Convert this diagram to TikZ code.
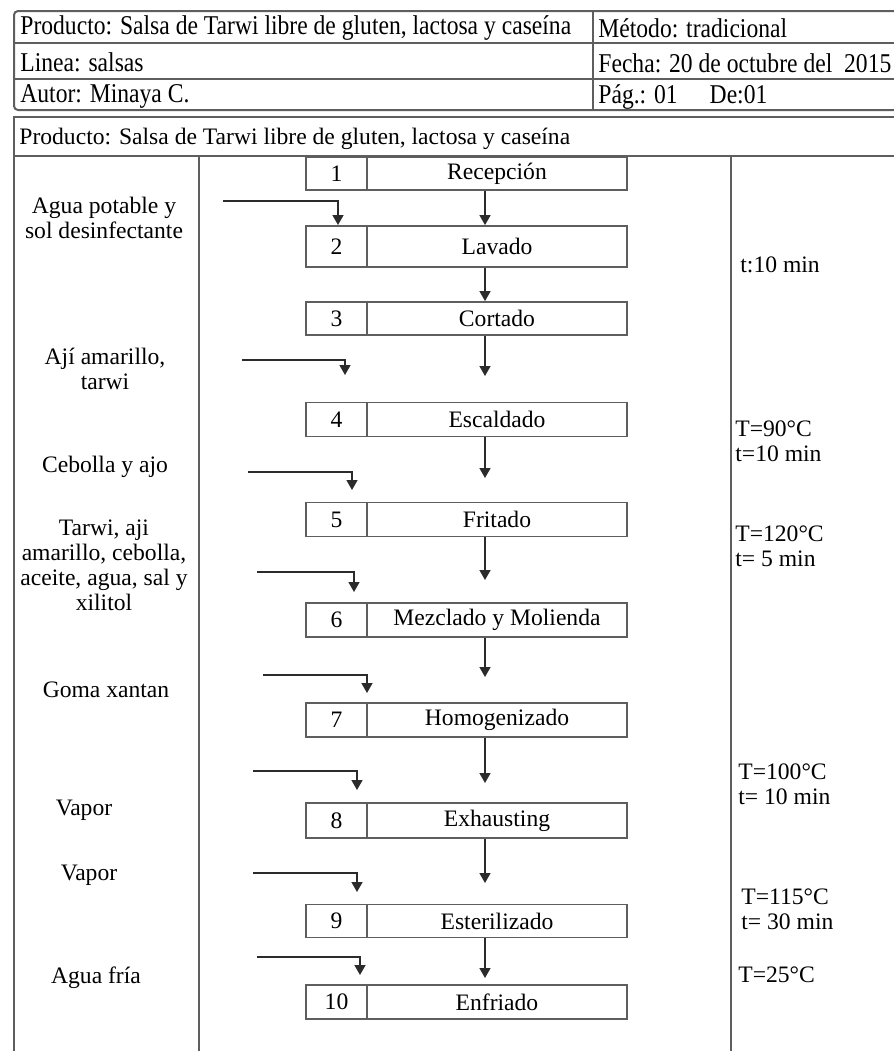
\documentclass[tikz,border=0pt]{standalone}
\usepackage{fontspec}
\setmainfont{Liberation Serif}
\usepackage{xcolor}
\usepackage{graphicx}
\usepackage{tikz}
\usetikzlibrary{positioning,arrows.meta,calc}
\definecolor{ln}{HTML}{5E5E5E}
\definecolor{arw}{HTML}{2B2B2B}
\newcommand{\tall}[1]{\scalebox{1}[1.15]{#1}}
\tikzset{
  frame/.style={draw=ln,line width=1pt},
  stepbox/.style={draw=ln,line width=0.9pt,minimum width=130pt,inner sep=0pt},
  numbox/.style={draw=ln,line width=0.9pt,minimum width=30.5pt,inner sep=0pt},
  lbl/.style={inner sep=0pt,align=center},
  cond/.style={inner sep=0pt,align=left,anchor=west},
  hdr/.style={inner sep=0pt,anchor=west},
  arr/.style={-{Triangle[length=5pt,width=5.5pt]},line width=0.7pt,arw},
}

\begin{document}
\begin{tikzpicture}[x=0.5pt,y=-0.5pt,font=\fontsize{11.8}{12.5}\selectfont]
\useasboundingbox (0,0) rectangle (894,1051);
% header table
\draw[frame,rounded corners=2pt] (894,11) -- (14,11) -- (14,110) -- (894,110);
\draw[frame] (14,43) -- (894,43);
\draw[frame] (14,79) -- (894,79);
\draw[frame] (593,11) -- (593,110);
\node[hdr] (hp) at (20,28) {\tall{Producto: Salsa de Tarwi libre de gluten, lactosa y caseína}};
\node[hdr] (hl) at (20,62) {\tall{Linea: salsas}};
\node[hdr] (ha) at (20,96) {\tall{Autor: Minaya C.}};
\node[hdr] (hm) at (598,28) {\tall{Método: tradicional}};
\node[hdr] (hf) at (598,63) {\tall{Fecha: 20 de octubre del\ \ 2015}};
\node[hdr] (hg) at (598,97) {\tall{Pág.: 01\hspace{16pt}De:01}};
% process frame
\draw[frame] (894,117) -- (14,117) -- (14,1051);
\draw[frame] (14,156) -- (894,156);
\draw[frame] (199,156) -- (199,1051);
\draw[frame] (731,156) -- (731,1051);
\node[hdr] (tp) at (19,139) {Producto: Salsa de Tarwi libre de gluten, lactosa y caseína};
% steps
\foreach \i/\y/\h/\t in {1/173.5/33/Recepción,2/246.5/41/Lavado,3/318.5/33/Cortado,
  4/419.5/34/Escaldado,5/519.5/34/Fritado,6/620/34/Mezclado y Molienda,
  7/720/34/Homogenizado,8/820.5/35/Exhausting,9/921/33/Esterilizado,10/1002/34/Enfriado}{
  \node[numbox,minimum height=\h*0.5pt] (n\i) at (336.5,\y) {\i};
  \node[stepbox,minimum height=\h*0.5pt] (s\i) at (497,\y) {\t};
}
% main flow
\coordinate (m4) at (485,376);
\coordinate (m5) at (485,478);
\coordinate (m6) at (485,580);
\coordinate (m7) at (485,677);
\coordinate (m8) at (485,783);
\coordinate (m9) at (485,883);
\coordinate (m10) at (485,978);
\draw[arr] (s1.south -| m4) -- (s2.north -| m4);
\draw[arr] (s2.south -| m4) -- (s3.north -| m4);
\foreach \a/\b in {3/4,4/5,5/6,6/7,7/8,8/9,9/10}{\draw[arr] (s\a.south -| m\b) -- (m\b);}
% inputs
\foreach \k/\xa/\ya/\xb/\yb in {2/223/201/338/225,4/242/360/345/375,5/248/472/352/490,
  6/257/572/354/592,7/263/675/367/693,8/253/771/357/790,9/253/873/357/892,10/257/957/360/975}{
  \coordinate (a\k) at (\xa,\ya);
  \coordinate (b\k) at (\xb,\yb);
  \draw[arr] (a\k) -| (b\k);
}
\node[lbl] (l2) at (104,218) {Agua potable y\\sol desinfectante};
\node[lbl] (l4) at (105,369) {Ají amarillo,\\tarwi};
\node[lbl] (l5) at (105,467) {Cebolla y ajo};
\node[lbl] (l6) at (104,565) {Tarwi, aji\\amarillo, cebolla,\\aceite, agua, sal y\\xilitol};
\node[lbl] (l7) at (106,690) {Goma xantan};
\node[lbl] (l8) at (84,810) {Vapor};
\node[lbl] (l9) at (89,875) {Vapor};
\node[lbl] (l10) at (96,978) {Agua fría};
% conditions
\node[cond] (c2) at (740,265) {t:10 min};
\node[cond] (c4) at (735,441) {T=90°C\\t=10 min};
\node[cond] (c5) at (735,546) {T=120°C\\t= 5 min};
\node[cond] (c8) at (738,784.5) {T=100°C\\t= 10 min};
\node[cond] (c9) at (741,909.5) {T=115°C\\t= 30 min};
\node[cond] (c10) at (738,975) {T=25°C};
\end{tikzpicture}
\end{document}
